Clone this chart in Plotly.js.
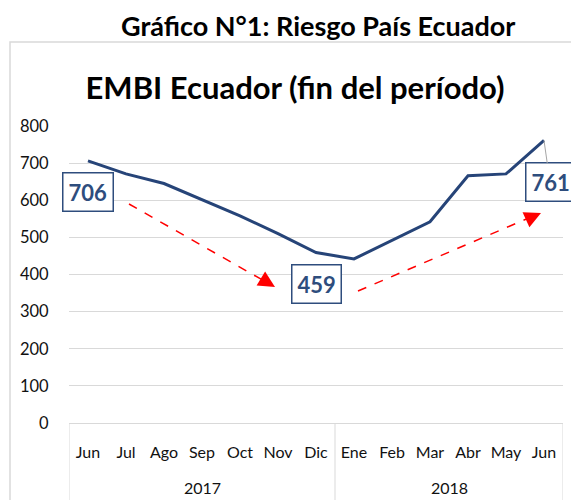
<!DOCTYPE html>
<html>
<head>
<meta charset="utf-8">
<script src="https://cdn.plot.ly/plotly-3.0.1.min.js"></script>
<style>
  html, body { margin: 0; padding: 0; background: #ffffff; }
  #chart { width: 571px; height: 500px; }
</style>
</head>
<body>
<div id="chart"></div>
<script>
// ---- data ----
const years  = ['2017','2017','2017','2017','2017','2017','2017','2018','2018','2018','2018','2018','2018'];
const months = ['Jun','Jul','Ago','Sep','Oct','Nov','Dic','Ene','Feb','Mar','Abr','May','Jun'];
const embi   = [706, 671, 645, 602, 558, 510, 459, 442, 493, 542, 666, 671, 761];
const yTicks = [0, 100, 200, 300, 400, 500, 600, 700, 800];
const labelIdx = [0, 6, 12];   // points whose value is shown in a box

// ---- layout helpers (pixel -> paper) ----
const W = 571, H = 500;
const M = { l: 69, r: 8, t: 126, b: 77 };
const PW = W - M.l - M.r, PH = H - M.t - M.b;
const px = x => (x - M.l) / PW;
const py = y => (H - M.b - y) / PH;

const idx = months.map((m, i) => i);

const navy = '#264478';
const labelColor = '#2E4D7D';
const FONT = 'Lato, "Open Sans", sans-serif';
const GRID = '#D9D9D9';
const TXT = '#111111';

const trace = {
  type: 'scatter',
  mode: 'lines',
  x: idx,
  y: embi,
  line: { color: navy, width: 3 },
  hoverinfo: 'skip'
};

const annotations = [];
const shapes = [];

// titles
annotations.push({
  xref: 'paper', yref: 'paper', x: px(317.5), y: py(25),
  xanchor: 'center', yanchor: 'middle', showarrow: false,
  text: '<b>Gráfico N°1: Riesgo País Ecuador</b>',
  font: { family: FONT, size: 27, color: '#000000' }
});

// year group labels and dividers
const groups = [];
years.forEach((y, i) => {
  if (!groups.length || groups[groups.length - 1].name !== y) groups.push({ name: y, start: i, end: i });
  else groups[groups.length - 1].end = i;
});
groups.forEach((g, k) => {
  annotations.push({
    xref: 'x', yref: 'paper', x: (g.start + g.end) / 2, y: py(487),
    xanchor: 'center', yanchor: 'middle', showarrow: false,
    text: g.name, font: { family: FONT, size: 16, color: TXT }
  });
  if (k === 0) shapes.push({ type: 'line', xref: 'x', yref: 'paper', x0: g.start - 0.5, x1: g.start - 0.5,
    y0: py(423), y1: py(510), line: { color: GRID, width: 1 } });
  shapes.push({ type: 'line', xref: 'x', yref: 'paper', x0: g.end + 0.5, x1: g.end + 0.5,
    y0: py(423), y1: py(510), line: { color: GRID, width: 1 } });
});

// value boxes
labelIdx.forEach((i, k) => {
  const last = (k === labelIdx.length - 1);
  const a = {
    xref: 'x', yref: 'y', x: idx[i], y: embi[i],
    text: '<b>' + embi[i] + '</b>',
    font: { family: FONT, size: 22, color: labelColor },
    bgcolor: '#ffffff', bordercolor: labelColor, borderwidth: 1.5, borderpad: 5
  };
  if (last) {
    Object.assign(a, { showarrow: true, arrowhead: 0, arrowwidth: 1, arrowcolor: '#A6A6A6', ax: 6, ay: 42 });
  } else {
    Object.assign(a, { showarrow: false, xanchor: 'center', yanchor: 'middle', yshift: -31 });
  }
  annotations.push(a);
});

// red arrowheads
[[275, 287, -10, -6], [541, 213, -11, 5]].forEach(d => {
  annotations.push({
    xref: 'paper', yref: 'paper', x: px(d[0]), y: py(d[1]),
    ax: d[2], ay: d[3], text: '', showarrow: true,
    arrowhead: 2, arrowsize: 2.2, arrowwidth: 1.5, arrowcolor: '#FF0000'
  });
});

// outer frame
shapes.push({ type: 'rect', xref: 'paper', yref: 'paper',
  x0: px(10), x1: px(620), y0: py(560), y1: py(42),
  line: { color: GRID, width: 1.5 }, fillcolor: 'rgba(0,0,0,0)', layer: 'below' });
// red dashed trend lines
shapes.push({ type: 'line', xref: 'paper', yref: 'paper',
  x0: px(129), y0: py(204), x1: px(266), y1: py(282),
  line: { color: '#FF0000', width: 1.5, dash: 'dash' } });
shapes.push({ type: 'line', xref: 'paper', yref: 'paper',
  x0: px(358), y0: py(291), x1: px(531), y1: py(217),
  line: { color: '#FF0000', width: 1.5, dash: 'dash' } });

const layout = {
  width: W, height: H,
  margin: M,
  paper_bgcolor: '#ffffff', plot_bgcolor: '#ffffff',
  showlegend: false,
  font: { family: FONT, color: TXT },
  title: {
    text: '<b>EMBI Ecuador (fin del período)</b>',
    font: { family: FONT, size: 31, color: '#000000' },
    x: 295 / W, xanchor: 'center', xref: 'container',
    y: 1 - 88 / H, yanchor: 'middle', yref: 'container'
  },
  xaxis: {
    range: [-0.5, months.length - 0.5],
    tickvals: idx, ticktext: months,
    showgrid: false, zeroline: false,
    showline: true, linecolor: GRID, linewidth: 1,
    ticks: 'outside', ticklen: 15, tickcolor: 'rgba(0,0,0,0)',
    tickfont: { family: FONT, size: 16, color: TXT },
    fixedrange: true
  },
  yaxis: {
    range: [0, 800],
    tickvals: yTicks,
    showgrid: true, gridcolor: GRID, gridwidth: 1,
    zeroline: false, showline: false,
    ticks: 'outside', ticklen: 16, tickcolor: 'rgba(0,0,0,0)',
    tickfont: { family: FONT, size: 16.5, color: TXT },
    fixedrange: true
  },
  annotations: annotations,
  shapes: shapes
};

Plotly.newPlot('chart', [trace], layout, { displayModeBar: false, staticPlot: true });
</script>
</body>
</html>
